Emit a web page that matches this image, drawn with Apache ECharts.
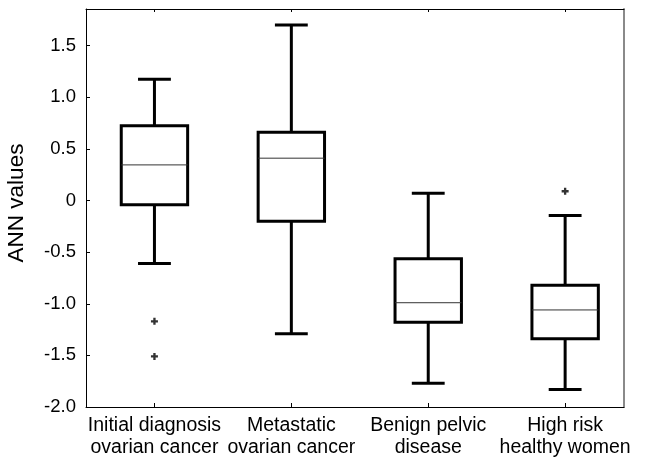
<!DOCTYPE html>
<html>
<head>
<meta charset="utf-8">
<script src="https://cdn.jsdelivr.net/npm/echarts@6/dist/echarts.min.js"></script>
<style>
html,body{margin:0;padding:0;background:#fff;}
#chart{width:647px;height:460px;}
</style>
</head>
<body>
<div id="chart"></div>
<script>
const categories = ['Initial diagnosis\novarian cancer', 'Metastatic\novarian cancer', 'Benign pelvic\ndisease', 'High risk\nhealthy women'];
const lowerWhisker = [-0.61, -1.29, -1.77, -1.83];
const q1 = [-0.04, -0.20, -1.18, -1.34];
const median = [0.345, 0.41, -0.99, -1.06];
const q3 = [0.725, 0.66, -0.565, -0.82];
const upperWhisker = [1.175, 1.70, 0.07, -0.145];
const outliers = [[1, -1.17], [1, -1.51], [4, 0.09]];
const yTicks = [-2.0, -1.5, -1.0, -0.5, 0, 0.5, 1.0, 1.5];
const xTicks = [1, 2, 3, 4];

const boxData = categories.map((c, i) => [i + 1, lowerWhisker[i], q1[i], median[i], q3[i], upperWhisker[i]]);

const chart = echarts.init(document.getElementById('chart'), null, {renderer: 'canvas'});
const font = 'Liberation Sans, Arial, sans-serif';

chart.setOption({
  animation: false,
  backgroundColor: '#fff',
  grid: {left: 86, top: 9, width: 538, height: 398, outerBoundsMode: 'none', containLabel: false},
  xAxis: [{
    type: 'value', min: 0.5, max: 4.43, position: 'bottom',
    splitLine: {show: false},
    axisLine: {show: true, onZero: false, lineStyle: {color: '#000', width: 1}},
    axisTick: {show: true, inside: true, length: 4, customValues: xTicks, lineStyle: {color: '#000'}},
    axisLabel: {
      show: true, customValues: xTicks, margin: 8,
      formatter: v => categories[Math.round(v) - 1] || '',
      color: '#000', fontFamily: font, fontSize: 19.5, lineHeight: 22, align: 'center'
    }
  }, {
    type: 'value', min: 0.5, max: 4.43, position: 'top',
    splitLine: {show: false},
    axisLine: {show: true, onZero: false, lineStyle: {color: '#000', width: 1}},
    axisTick: {show: true, inside: true, length: 3, customValues: xTicks, lineStyle: {color: '#000'}},
    axisLabel: {show: false}
  }],
  yAxis: [{
    type: 'value', min: -2.0, max: 1.855, position: 'left',
    splitLine: {show: false},
    axisLine: {show: true, onZero: false, lineStyle: {color: '#000', width: 1}},
    axisTick: {show: true, inside: true, length: 4, customValues: yTicks, lineStyle: {color: '#000'}},
    axisLabel: {
      customValues: yTicks, margin: 10,
      formatter: v => (Math.abs(v) < 1e-9 ? '0' : v.toFixed(1)),
      color: '#000', fontFamily: font, fontSize: 18.5
    },
    name: 'ANN values', nameLocation: 'middle', nameGap: 58, nameRotate: 90,
    nameTextStyle: {color: '#000', fontFamily: font, fontSize: 22.5, padding: [0, 0, 0, 10]}
  }, {
    type: 'value', min: -2.0, max: 1.855, position: 'right',
    splitLine: {show: false},
    axisLine: {show: true, onZero: false, lineStyle: {color: '#8a8a8a', width: 2}},
    axisTick: {show: false},
    axisLabel: {show: false}
  }],
  series: [{
    type: 'custom',
    xAxisIndex: 0, yAxisIndex: 0,
    data: boxData,
    encode: {x: 0, y: [1, 2, 3, 4, 5]},
    clip: false,
    renderItem: function (params, api) {
      const x = api.value(0);
      const pLo = api.coord([x, api.value(1)]);
      const pQ1 = api.coord([x, api.value(2)]);
      const pMed = api.coord([x, api.value(3)]);
      const pQ3 = api.coord([x, api.value(4)]);
      const pHi = api.coord([x, api.value(5)]);
      const band = api.size([1, 0])[0];
      const bw = band * 0.485;
      const cw = band * 0.24;
      const cx = pLo[0];
      const thick = {stroke: '#000', lineWidth: 3, fill: null};
      return {
        type: 'group',
        children: [
          {type: 'line', shape: {x1: cx, y1: pLo[1], x2: cx, y2: pQ1[1]}, style: thick},
          {type: 'line', shape: {x1: cx, y1: pQ3[1], x2: cx, y2: pHi[1]}, style: thick},
          {type: 'line', shape: {x1: cx - cw / 2, y1: pLo[1], x2: cx + cw / 2, y2: pLo[1]}, style: thick},
          {type: 'line', shape: {x1: cx - cw / 2, y1: pHi[1], x2: cx + cw / 2, y2: pHi[1]}, style: thick},
          {type: 'rect', shape: {x: cx - bw / 2, y: pQ3[1], width: bw, height: pQ1[1] - pQ3[1]}, style: {stroke: '#000', lineWidth: 3, fill: '#fff'}},
          {type: 'line', shape: {x1: cx - bw / 2, y1: pMed[1], x2: cx + bw / 2, y2: pMed[1]}, style: {stroke: '#333', lineWidth: 1}}
        ]
      };
    }
  }, {
    type: 'scatter',
    xAxisIndex: 0, yAxisIndex: 0,
    data: outliers,
    symbol: 'path://M2,0H4V2H6V4H4V6H2V4H0V2H2Z',
    symbolSize: 7,
    itemStyle: {color: '#000'}
  }]
});
</script>
</body>
</html>
